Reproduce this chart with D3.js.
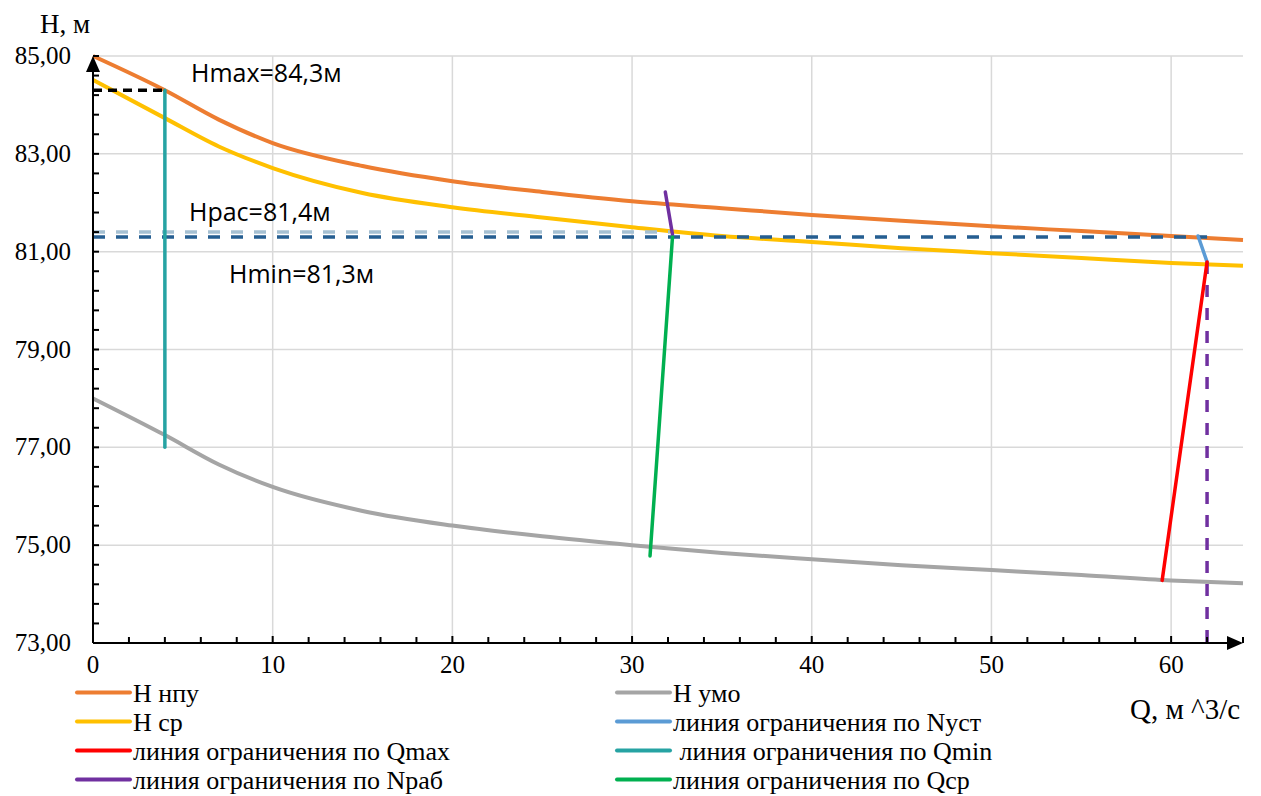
<!DOCTYPE html>
<html lang="ru">
<head>
    <meta charset="UTF-8">
    <title>H(Q)</title>
<style>
    body { margin: 0; background: #fff; }
    .tick-label, .legend text, .axis-title {
        font-family: "Liberation Serif", "Times New Roman", serif;
        fill: #000;
    }
    .note {
        font-family: "Open Sans", "Liberation Sans", sans-serif;
        font-size: 25px;
        fill: #000;
    }
    .grid line { stroke: #d9d9d9; stroke-width: 1.5; }
</style>
</head>
<body>
<svg class="chart"></svg>
<script src="https://cdn.jsdelivr.net/npm/d3@7/dist/d3.min.js"></script>
<script>
    // данные
    var qValues  = [0, 4, 7, 10, 15, 20, 25, 30, 35, 40, 45, 50, 55, 60, 64];
    var hNpu     = [85.0, 84.3, 83.7, 83.22, 82.75, 82.44, 82.22, 82.03, 81.89, 81.75, 81.63, 81.52, 81.42, 81.32, 81.24];
    var hCp      = [84.51, 83.73, 83.15, 82.71, 82.2, 81.91, 81.7, 81.5, 81.32, 81.2, 81.07, 80.97, 80.87, 80.77, 80.71];
    var hUmo     = [78.0, 77.25, 76.65, 76.19, 75.7, 75.4, 75.18, 75.0, 74.84, 74.71, 74.59, 74.49, 74.39, 74.28, 74.22];

    var limNust  = [[61.5, 81.32], [62.0, 80.79]];
    var limQmax  = [[62.0, 80.79], [59.5, 74.28]];
    var limQmin  = [[4.0, 84.3], [4.0, 77.0]];
    var limNrab  = [[31.85, 82.22], [32.25, 81.35]];
    var limQcp   = [[32.25, 81.3], [31.0, 74.78]];

    var hMax = 84.3, hRas = 81.4, hMin = 81.3;
    var qHmaxEnd = 4, qHrasEnd = 32.1, qHminEnd = 62.0, qVertDash = 62.0;

    var xTicks = [0, 10, 20, 30, 40, 50, 60];
    var yTicks = [73, 75, 77, 79, 81, 83, 85];

    var legendItems = [
        {name: "Н нпу", color: "#ED7D31"},
        {name: "Н умо", color: "#A5A5A5"},
        {name: "Н ср", color: "#FFC000"},
        {name: "линия ограничения по Nуст", color: "#5B9BD5"},
        {name: "линия ограничения по Qmax", color: "#FF0000"},
        {name: " линия ограничения по Qmin", color: "#26A3A3"},
        {name: "линия ограничения по Nраб", color: "#7030A0"},
        {name: "линия ограничения по Qср", color: "#00B050"}
    ];

    // холст
    var W = 1261, H = 796;
    var mL = 93, mT = 56, mR = 1243, mB = 643;
    var svg = d3.select('.chart').attr('width', W).attr('height', H);

    var x = d3.scaleLinear().domain([0, 64]).range([mL, mR]);
    var y = d3.scaleLinear().domain([73, 85]).range([mB, mT]);

    // сетка
    var grid = svg.append('g').attr('class', 'grid');
    grid.selectAll('.gx').data(xTicks.slice(1)).enter().append('line')
        .attr('x1', d => x(d)).attr('x2', d => x(d))
        .attr('y1', mT).attr('y2', mB);
    grid.selectAll('.gy').data(yTicks.slice(1)).enter().append('line')
        .attr('x1', mL).attr('x2', mR)
        .attr('y1', d => y(d)).attr('y2', d => y(d));

    // кривые
    var line = d3.line()
        .x(d => x(d[0])).y(d => y(d[1]))
        .curve(d3.curveMonotoneX);
    function series(vals) { return qValues.map((q, i) => [q, vals[i]]); }

    function drawCurve(vals, color) {
        svg.append('path').datum(series(vals))
            .attr('d', line)
            .attr('fill', 'none')
            .attr('stroke', color)
            .attr('stroke-width', 4);
    }
    drawCurve(hUmo, "#A5A5A5");
    drawCurve(hCp, "#FFC000");
    drawCurve(hNpu, "#ED7D31");

    var straight = d3.line().x(d => x(d[0])).y(d => y(d[1]));

    function dashed(pts, color, dash) {
        svg.append('path').datum(pts)
            .attr('d', straight)
            .attr('fill', 'none')
            .attr('stroke', color)
            .attr('stroke-width', 3.5)
            .attr('stroke-dasharray', dash);
    }
    dashed([[0, hRas], [qHrasEnd, hRas]], "#A5C0D2", "12,11");
    dashed([[0, hMin], [qHminEnd, hMin]], "#255E91", "12,11");
    dashed([[0, hMax], [qHmaxEnd, hMax]], "#000", "9,6");
    dashed([[qVertDash, 80.79], [qVertDash, 73]], "#7030A0", "12,11");

    function seg(pts, color) {
        svg.append('path').datum(pts)
            .attr('d', straight)
            .attr('fill', 'none')
            .attr('stroke', color)
            .attr('stroke-width', 3.5)
            .attr('stroke-linecap', 'round');
    }
    seg(limQmin, "#26A3A3");
    seg(limNrab, "#7030A0");
    seg(limQcp, "#00B050");
    seg(limNust, "#5B9BD5");
    seg(limQmax, "#FF0000");

    // оси
    var xMinor = d3.range(0, 65, 2);
    var yMinor = d3.range(0, 31).map(i => 73 + i * 0.4);
    var axes = svg.append('g');
    axes.selectAll('.tx').data(xMinor).enter().append('line')
        .attr('x1', d => x(d)).attr('x2', d => x(d))
        .attr('y1', mB).attr('y2', d => mB - (d % 10 === 0 ? 7 : 6))
        .attr('stroke', '#000').attr('stroke-width', 2);
    axes.selectAll('.ty').data(yMinor).enter().append('line')
        .attr('x1', mL).attr('x2', mL + 6)
        .attr('y1', d => y(d)).attr('y2', d => y(d))
        .attr('stroke', '#000').attr('stroke-width', 2);
    axes.append('line').attr('x1', mL).attr('x2', mR - 2)
        .attr('y1', mB).attr('y2', mB).attr('stroke', '#000').attr('stroke-width', 2);
    axes.append('line').attr('x1', mL).attr('x2', mL)
        .attr('y1', mB).attr('y2', mT + 6).attr('stroke', '#000').attr('stroke-width', 2);
    // стрелки
    axes.append('path')
        .attr('d', `M${mR},${mB} L${mR - 16},${mB - 7} L${mR - 16},${mB + 7} Z`)
        .attr('fill', '#000');
    axes.append('path')
        .attr('d', `M${mL},${mT} L${mL - 7},${mT + 16} L${mL + 7},${mT + 16} Z`)
        .attr('fill', '#000');

    svg.selectAll('.xl').data(xTicks).enter().append('text')
        .attr('class', 'tick-label')
        .attr('x', d => x(d)).attr('y', mB + 30)
        .attr('text-anchor', 'middle')
        .attr('font-size', 25)
        .text(d => d);
    svg.selectAll('.yl').data(yTicks).enter().append('text')
        .attr('class', 'tick-label')
        .attr('x', mL - 22).attr('y', d => y(d) + 8)
        .attr('text-anchor', 'end')
        .attr('font-size', 25)
        .text(d => d3.format('.2f')(d).replace('.', ','));

    svg.append('text').attr('class', 'axis-title')
        .attr('x', 40).attr('y', 33).attr('font-size', 27)
        .text('Н, м');
    svg.append('text').attr('class', 'axis-title')
        .attr('x', 1130).attr('y', 719).attr('font-size', 29)
        .text('Q, м ^3/с');

    // подписи
    svg.append('text').attr('class', 'note').attr('x', 191).attr('y', 82).text('Hmax=84,3м');
    svg.append('text').attr('class', 'note').attr('x', 189).attr('y', 221).text('Hрас=81,4м');
    svg.append('text').attr('class', 'note').attr('x', 229).attr('y', 283).text('Hmin=81,3м');

    // легенда
    var legend = svg.append('g').attr('class', 'legend');
    var items = legend.selectAll('g').data(legendItems).enter().append('g')
        .attr('transform', (d, i) => `translate(${i % 2 === 0 ? 77 : 617},${692.5 + Math.floor(i / 2) * 29})`);
    items.append('line')
        .attr('x1', 0).attr('x2', 53).attr('y1', 0).attr('y2', 0)
        .attr('stroke', d => d.color).attr('stroke-width', 4).attr('stroke-linecap', 'round');
    items.append('text')
        .attr('x', 56).attr('y', 9).attr('font-size', 26)
        .style('white-space', 'pre')
        .text(d => d.name);
</script>
</body>
</html>
